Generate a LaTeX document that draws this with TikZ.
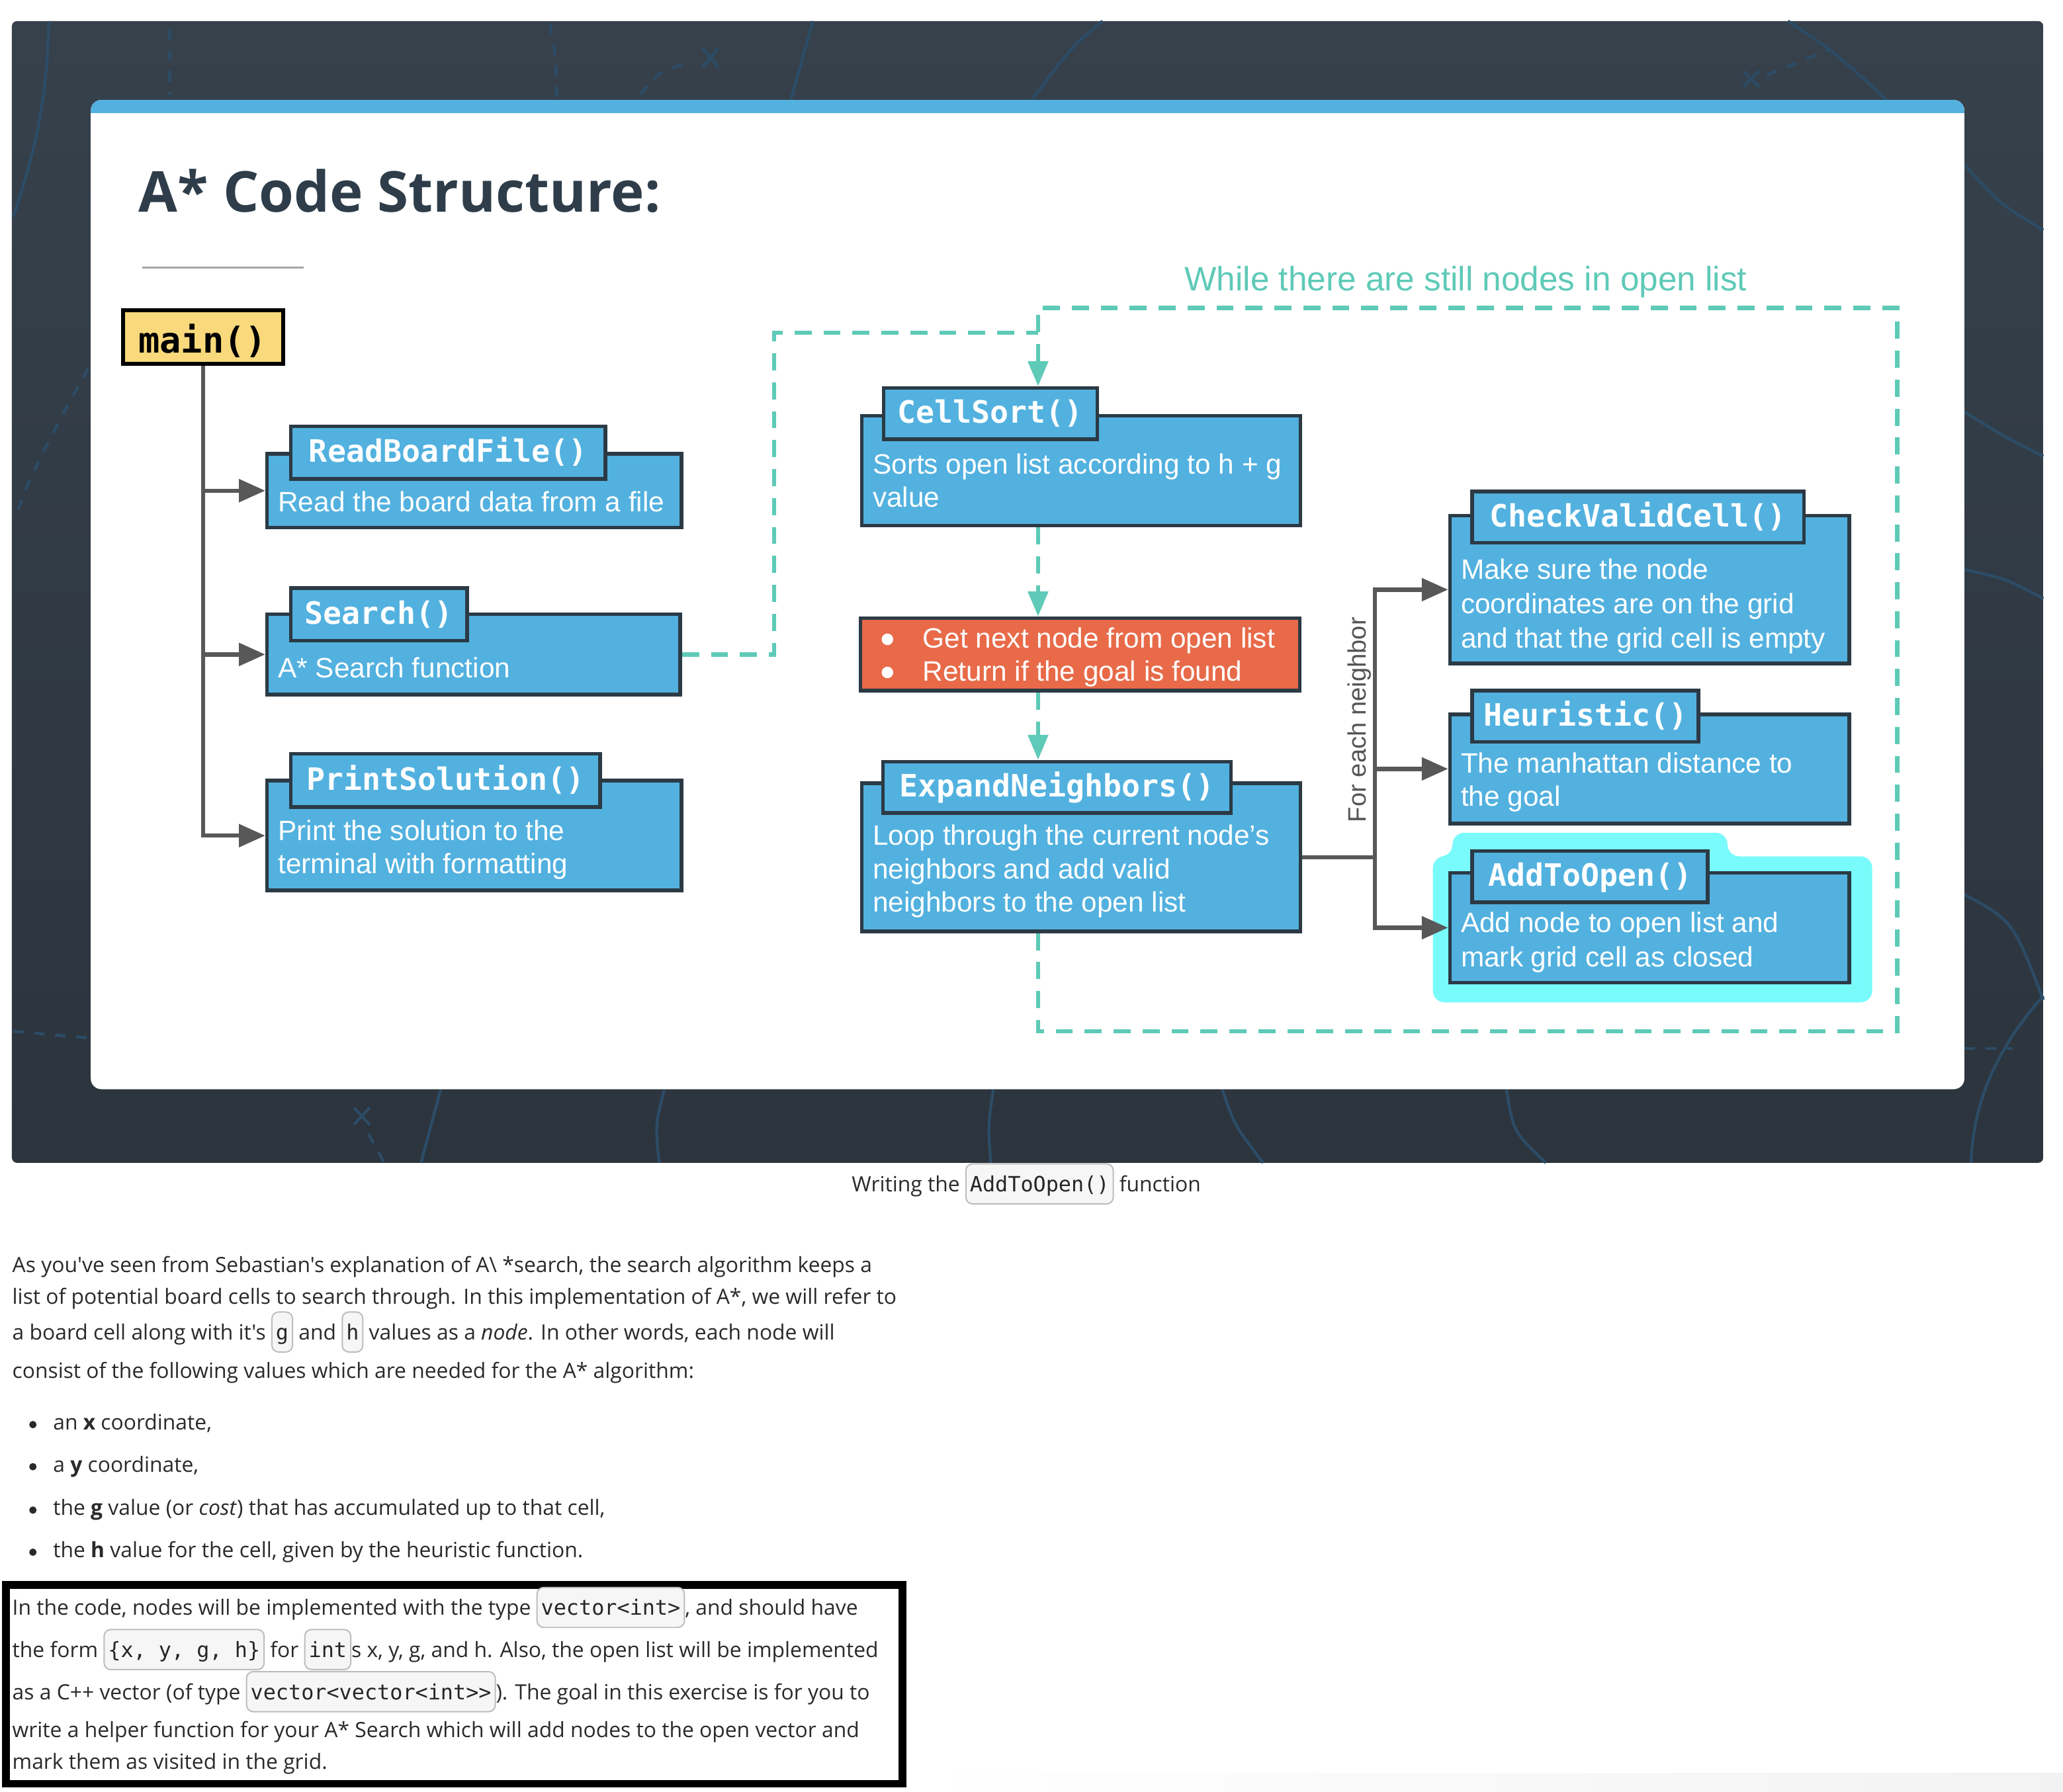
\documentclass[tikz,border=0pt]{standalone}
\usepackage{fontspec}
\newfontfamily\osans{Open Sans}
\newfontfamily\arialf{Liberation Sans}
\newfontfamily\codef{DejaVu Sans Mono}
\usetikzlibrary{arrows.meta,fit}
\definecolor{paneltop}{HTML}{36414C}
\definecolor{panelbot}{HTML}{2C343D}
\definecolor{decoblue}{HTML}{2C4C66}
\definecolor{stripblue}{HTML}{53B1DF}
\definecolor{fnblue}{HTML}{52B1DF}
\definecolor{boxline}{HTML}{2B3A45}
\definecolor{orangebox}{HTML}{E86A48}
\definecolor{mainyellow}{HTML}{F9D97B}
\definecolor{teal2}{HTML}{5ECAB7}
\definecolor{glow}{HTML}{79FBFB}
\definecolor{treegrey}{HTML}{585858}
\definecolor{titlecol}{HTML}{2E3D49}
\definecolor{labgrey}{HTML}{555555}
\definecolor{bodytext}{HTML}{2A2A2A}
\definecolor{codebg}{HTML}{F6F6F6}
\definecolor{codeline}{HTML}{BDBDBD}
\newcommand\code[1]{\tikz[baseline=(cb.base)]\node[codebox](cb){#1};}
\tikzset{
 fnbody/.style={draw=boxline, line width=1.4pt, fill=fnblue, inner sep=0pt},
 fntab/.style={draw=boxline, line width=1.4pt, fill=fnblue, inner sep=0pt},
 tablbl/.style={font=\codef\bfseries\fontsize{11.7}{14}\selectfont, text=white, inner sep=0pt, text height=0.73em, text depth=0pt},
 btxt/.style={font=\arialf\fontsize{10.65}{12}\selectfont, text=white, inner sep=0pt, anchor=base west},
 ptxt/.style={font=\osans\fontsize{8}{9.5}\selectfont, text=bodytext, inner sep=0pt, anchor=base west},
 codebox/.style={draw=codeline, fill=codebg, line width=0.5pt, rounded corners=2.5pt, inner xsep=1.5pt, inner ysep=3pt, text height=0.95em, text depth=0.2em, font=\codef\fontsize{8}{9}\selectfont, text=black!85},
 wdot/.style={circle, fill=white, inner sep=0pt, minimum size=4.4pt},
 pdot/.style={circle, fill=bodytext, inner sep=0pt, minimum size=2.8pt},
 treeln/.style={draw=treegrey, line width=1.6pt},
 treearr/.style={treeln, -{Triangle[length=10pt,width=8.5pt]}},
 loopline/.style={draw=teal2, line width=1.6pt, dash pattern=on 6.5pt off 4.5pt},
 looparrow/.style={loopline, -{Triangle[length=9.5pt,width=7.5pt]}},
 decoln/.style={draw=decoblue, line width=1.1pt},
 decodash/.style={decoln, dash pattern=on 4pt off 4pt},
}
\begin{document}
\begin{tikzpicture}[x=0.5pt,y=-0.5pt]
\useasboundingbox (0,0) rectangle (1568,1362);
\fill[white] (0,0) rectangle (1568,1362);
% dark panel
\shade[top color=paneltop, bottom color=panelbot, rounded corners=2pt] (9,16) rectangle (1553,884);
% decorations
\draw[decoln] (37,16) .. controls (36,80) and (25,120) .. (10,165);
\draw[decodash] (67,280) .. controls (45,320) and (25,355) .. (12,392);
\draw[decodash] (129,22) -- (129,72);
\draw[decodash] (418,18) .. controls (422,40) .. (423,74);
\draw[decoln] (618,16) -- (601,76);
\draw[decodash] (487,72) .. controls (500,55) .. (525,47);
\draw[decoln] (534,37) -- (546,51) (546,37) -- (534,51);
\draw[decoln] (838,16) .. controls (815,35) .. (784,76);
\draw[decoln] (1359,16) .. controls (1395,40) .. (1434,76);
\draw[decoln] (1493,125) .. controls (1520,155) .. (1553,175);
\draw[decoln] (1325,54) -- (1337,66) (1337,54) -- (1325,66);
\draw[decodash] (1343,57) -- (1390,38);
\draw[decoln] (1493,313) .. controls (1520,330) .. (1553,347);
\draw[decoln] (1493,433) .. controls (1525,440) .. (1553,455);
\draw[decoln] (1493,680) .. controls (1530,700) .. (1553,760);
\draw[decodash] (1493,797) -- (1530,797);
\draw[decoln] (1553,757) .. controls (1515,800) and (1500,840) .. (1498,884);
\draw[decoln] (929,828) .. controls (938,855) .. (960,884);
\draw[decoln] (1145,828) .. controls (1150,860) .. (1175,884);
\draw[decodash] (10,784) -- (67,789);
\draw[decoln] (269,842) -- (281,855) (281,842) -- (269,855);
\draw[decodash] (280,862) -- (292,884);
\draw[decoln] (335,828) -- (320,884);
\draw[decoln] (505,828) .. controls (498,855) .. (501,884);
\draw[decoln] (755,828) .. controls (751,855) .. (753,884);
% card
\fill[white, rounded corners=4pt] (69,76) rectangle (1493,828);
\begin{scope}
\clip[rounded corners=4pt] (69,76) rectangle (1493,828);
\fill[stripblue] (69,76) rectangle (1493,86);
\end{scope}
\node[font=\osans\bfseries\fontsize{21.45}{26}\selectfont, text=titlecol, anchor=base west, inner sep=0pt] (title) at (105,161) {A* Code Structure:};
\draw[gray!70, line width=0.6pt] (108,203.5) -- (231,203.5);
% teal loop label
\node[font=\arialf\fontsize{12.9}{15}\selectfont, text=teal2, anchor=base west, inner sep=0pt] (wl) at (900,221) {While there are still nodes in open list};
% glow
\fill[glow, rounded corners=4.5pt] (1089,651) -- (1104,651) -- (1104,633) -- (1313,633) -- (1313,651) -- (1423,651) -- (1423,762) -- (1089,762) -- cycle;
% main
\node[fit={(93.5,236) (215,276.5)}, draw=black, line width=1.5pt, fill=mainyellow, inner sep=0pt] (mn) {};
\node[font=\codef\bfseries\fontsize{13.5}{15}\selectfont, anchor=base, inner sep=0pt] (mnl) at (154,268.5) {main()};
% left boxes
\node[fnbody, fit={(203,345) (518,401)}] (rbf) {};
\node[fntab, fit={(221,324) (460,364)}] (rbft) {};
\node[tablbl] (rbfl) at (rbft.center) {ReadBoardFile()};
\node[btxt] (rbf1) at (211,389) {Read the board data from a file};
\node[fnbody, fit={(203,467) (517,528)}] (sr) {};
\node[fntab, fit={(221,447) (355,487)}] (srt) {};
\node[tablbl] (srl) at (srt.center) {Search()};
\node[btxt] (sr1) at (211,515) {A* Search function};
\node[fnbody, fit={(203,593.5) (518,677)}] (ps) {};
\node[fntab, fit={(221,573) (456,613.5)}] (pst) {};
\node[tablbl] (psl) at (pst.center) {PrintSolution()};
\node[btxt] (ps1) at (211,638.8) {Print the solution to the};
\node[btxt] (ps2) at (211,664.2) {terminal with formatting};
% middle boxes
\node[fnbody, fit={(655,316) (988.5,399.5)}] (cs) {};
\node[fntab, fit={(671.5,295) (834,334)}] (cst) {};
\node[tablbl] (csl) at (cst.center) {CellSort()};
\node[btxt] (cs1) at (663,360.5) {Sorts open list according to h + g};
\node[btxt] (cs2) at (663,385.6) {value};
\node[fit={(654,470) (988,525)}, draw=boxline, line width=1.4pt, fill=orangebox, inner sep=0pt] (ob) {};
\node[wdot] (obb1) at (674.5,486) {};
\node[btxt] (ob1) at (701,492.5) {Get next node from open list};
\node[wdot] (obb2) at (674.5,511.2) {};
\node[btxt] (ob2) at (701,517.6) {Return if the goal is found};
\node[fnbody, fit={(655,595.5) (988.5,708)}] (en) {};
\node[fntab, fit={(671,579) (935.5,618)}] (ent) {};
\node[tablbl] (enl) at (ent.center) {ExpandNeighbors()};
\node[btxt] (en1) at (663,642.6) {Loop through the current node’s};
\node[btxt] (en2) at (663,667.9) {neighbors and add valid};
\node[btxt] (en3) at (663,693.2) {neighbors to the open list};
% right boxes
\node[fnbody, fit={(1102,392) (1405.5,504.5)}] (cvc) {};
\node[fntab, fit={(1119,373.5) (1371,412.5)}] (cvct) {};
\node[tablbl] (cvcl) at (cvct.center) {CheckValidCell()};
\node[btxt] (cvc1) at (1110,440.2) {Make sure the node};
\node[btxt] (cvc2) at (1110,466.5) {coordinates are on the grid};
\node[btxt] (cvc3) at (1110,492.4) {and that the grid cell is empty};
\node[fnbody, fit={(1102,543) (1405.5,626)}] (heu) {};
\node[fntab, fit={(1119,525) (1291,564)}] (heut) {};
\node[tablbl] (heul) at (heut.center) {Heuristic()};
\node[btxt] (heu1) at (1110,587.7) {The manhattan distance to};
\node[btxt] (heu2) at (1110,613) {the goal};
\node[fnbody, fit={(1102,663.5) (1405.5,747)}] (ato) {};
\node[fntab, fit={(1119,647) (1298,686)}] (atot) {};
\node[tablbl] (atol) at (atot.center) {AddToOpen()};
\node[btxt] (ato1) at (1110,709) {Add node to open list and};
\node[btxt] (ato2) at (1110,734.7) {mark grid cell as closed};
% main tree
\draw[treearr] (mn.south) |- (ps.west);
\draw[treearr] (mn.south |- rbf.west) -- (rbf.west);
\draw[treearr] (mn.south |- sr.west) -- (sr.west);
% neighbor tree
\coordinate (br) at (1045,651.5);
\draw[treeln] (en.east) -- (en.east -| br);
\draw[treearr] (br |- ato.west) |- (cvc.west);
\draw[treearr] (br |- cvc.west) |- (ato.west);
\draw[treearr] (br |- heu.west) -- (heu.west);
\node[font=\arialf\fontsize{9.6}{11}\selectfont, text=labgrey, rotate=90, anchor=base west, inner sep=0pt] (fen) at (1038,625.5) {For each neighbor};
% teal loop
\coordinate (lpTL) at (789,234);
\coordinate (lpTR) at (1442,234);
\coordinate (lpBR) at (1442,784);
\coordinate (sjoin) at (588.5,253);
\draw[loopline] (sr.east) -| (sjoin) -- (sjoin -| lpTL);
\draw[looparrow] (en.south -| lpTL) |- (lpBR) -- (lpTR) -- (lpTL) -- (cst.north -| lpTL);
\draw[looparrow] (cs.south -| lpTL) -- (ob.north -| lpTL);
\draw[looparrow] (ob.south -| lpTL) -- (ent.north -| lpTL);
% caption
\node[ptxt] (cap) at (647,906) {Writing the \code{AddToOpen()} function};
% paragraph
\node[ptxt] (p1) at (9,967.5) {As you've seen from Sebastian's explanation of A\textbackslash\ *search, the search algorithm keeps a};
\node[ptxt] (p2) at (9,991.5) {list of potential board cells to search through. In this implementation of A*, we will refer to};
\node[ptxt] (p3) at (9,1018.6) {a board cell along with it's \code{g} and \code{h} values as a \textit{node}. In other words, each node will};
\node[ptxt] (p4) at (9,1047.6) {consist of the following values which are needed for the A* algorithm:};
\node[pdot] (b1d) at (25,1083) {};
\node[ptxt] (b1) at (40,1087) {an \textbf{x} coordinate,};
\node[pdot] (b2d) at (25,1115) {};
\node[ptxt] (b2) at (40,1119) {a \textbf{y} coordinate,};
\node[pdot] (b3d) at (25,1148) {};
\node[ptxt] (b3) at (40,1152) {the \textbf{g} value (or \textit{cost}) that has accumulated up to that cell,};
\node[pdot] (b4d) at (25,1180) {};
\node[ptxt] (b4) at (40,1184) {the \textbf{h} value for the cell, given by the heuristic function.};
% boxed paragraph
\shade[left color=white, right color=black!5] (690,1348) rectangle (1568,1362);
\draw[black, line width=3pt] (4.5,1205) rectangle (686,1356);
\node[ptxt] (c1) at (9,1228) {In the code, nodes will be implemented with the type \code{vector<int>}, and should have};
\node[ptxt] (c2) at (9,1260) {the form \code{\{x, y, g, h\}} for \code{int}s x, y, g, and h. Also, the open list will be implemented};
\node[ptxt] (c3) at (9,1292) {as a C++ vector (of type \code{vector<vector<int>>}). The goal in this exercise is for you to};
\node[ptxt] (c4) at (9,1321) {write a helper function for your A* Search which will add nodes to the open vector and};
\node[ptxt] (c5) at (9,1345) {mark them as visited in the grid.};
\end{tikzpicture}
\end{document}
